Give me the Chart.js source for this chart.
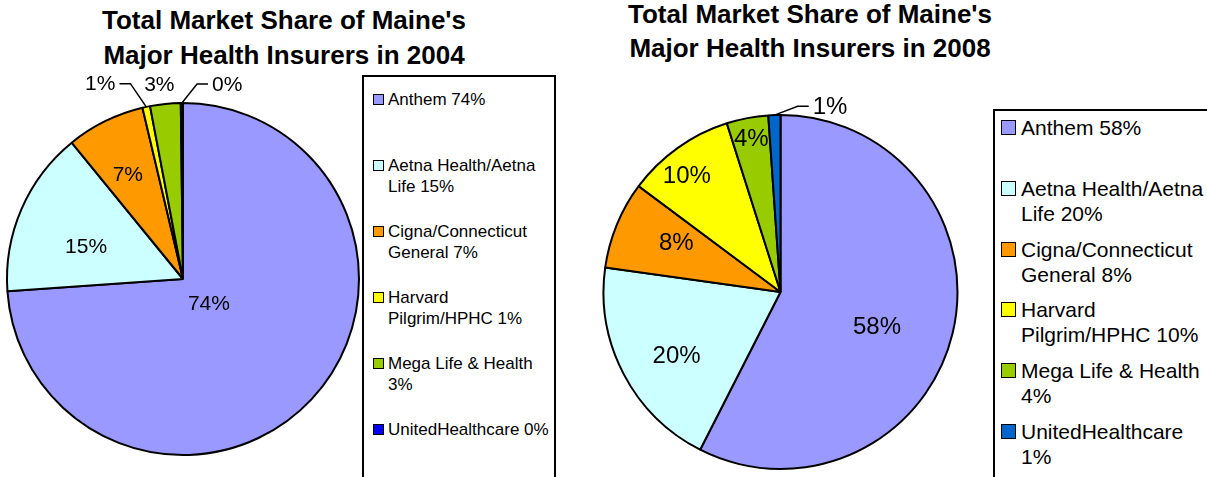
<!DOCTYPE html>
<html>
<head>
<meta charset="utf-8">
<script src="https://cdn.jsdelivr.net/npm/chart.js@4.4.1/dist/chart.umd.min.js"></script>
<style>
  html, body { margin: 0; padding: 0; background: #fff; }
  body { width: 1207px; height: 477px; position: relative; overflow: hidden;
         font-family: "Liberation Sans", Arial, sans-serif; color: #000; }
  canvas { position: absolute; top: 0; }
  .title { position: absolute; width: 500px; text-align: center; font-weight: bold; font-size: 26px; }
  .legend { position: absolute; border: 2px solid #000; background: #fff; box-sizing: border-box; }
  .item { position: absolute; }
  .swatch { position: absolute; box-sizing: border-box; border: 1.5px solid #000; }
  .text { position: absolute; }
</style>
</head>
<body>
<div id="title2004" class="title" style="left:34px; top:3px; line-height:35px;"></div>
<div id="title2008" class="title" style="left:560px; top:-3px; line-height:34px;"></div>
<canvas id="pie2004" width="366" height="558" style="left:0px; width:366px; height:558px;"></canvas>
<canvas id="pie2008" width="361" height="584" style="left:600px; width:361px; height:584px;"></canvas>
<div id="legend2004" class="legend" style="left:362px; top:75px; width:194px; height:420px;"></div>
<div id="legend2008" class="legend" style="left:993px; top:109px; width:300px; height:420px;"></div>
<script>
const categories = ["Anthem", "Aetna Health/Aetna Life", "Cigna/Connecticut General",
  "Harvard Pilgrim/HPHC", "Mega Life & Health", "UnitedHealthcare"];
const share2004 = [73.9, 15.2, 7.2, 0.7, 2.8, 0.2];
const share2008 = [57.5, 19.7, 8.0, 9.9, 3.8, 1.1];
const title2004 = ["Total Market Share of Maine's", "Major Health Insurers in 2004"];
const title2008 = ["Total Market Share of Maine's", "Major Health Insurers in 2008"];

const colors2004 = ["#9999FF", "#CCFFFF", "#FF9900", "#FFFF00", "#99CC00", "#0000FF"];
const colors2008 = ["#9999FF", "#CCFFFF", "#FF9900", "#FFFF00", "#99CC00", "#0066CC"];

function pct(v) {
  return Math.round(v) + "%";
}

// percent labels on / beside each slice, with elbow leader lines for the outside ones
const sliceLabels = {
  id: "sliceLabels",
  afterDatasetsDraw(chart, args, opts) {
    const ctx = chart.ctx;
    const meta = chart.getDatasetMeta(0);
    const values = chart.data.datasets[0].data;
    ctx.save();
    ctx.font = opts.size + 'px "Liberation Sans", Arial, sans-serif';
    ctx.fillStyle = "#000";
    ctx.strokeStyle = "#000";
    ctx.lineWidth = 1.5;
    ctx.textAlign = "center";
    ctx.textBaseline = "middle";
    meta.data.forEach((arc, i) => {
      const p = opts.place[i];
      const { x, y, startAngle, endAngle, outerRadius } =
        arc.getProps(["x", "y", "startAngle", "endAngle", "outerRadius"], true);
      const mid = (startAngle + endAngle) / 2;
      const a = mid + (p.shift || 0) * Math.PI / 180;
      const lx = x + Math.cos(a) * outerRadius * p.d;
      const ly = y + Math.sin(a) * outerRadius * p.d;
      const text = pct(values[i]);
      if (p.leader) {
        const ex = x + Math.cos(mid) * outerRadius;
        const ey = y + Math.sin(mid) * outerRadius;
        const half = ctx.measureText(text).width / 2;
        const dir = lx > ex ? -1 : 1;
        const endX = lx + dir * (half + 4);
        const elbowX = endX + dir * 11;
        ctx.beginPath();
        ctx.moveTo(ex, ey);
        ctx.lineTo(elbowX, ly - 1);
        ctx.lineTo(endX, ly - 1);
        ctx.stroke();
      }
      ctx.fillText(text, lx, ly);
    });
    ctx.restore();
  }
};

function makePie(id, values, colors, radius, labelSize, place) {
  return new Chart(document.getElementById(id), {
    type: "pie",
    data: {
      labels: categories,
      datasets: [{
        data: values,
        backgroundColor: colors,
        borderColor: "#000",
        borderWidth: 2,
        radius: radius,
      }],
    },
    options: {
      responsive: false,
      animation: false,
      events: [],
      layout: { padding: 0 },
      plugins: {
        legend: { display: false },
        title: { display: false },
        tooltip: { enabled: false },
        sliceLabels: { size: labelSize, place: place },
      },
    },
    plugins: [sliceLabels],
  });
}

function fillTitle(id, lines) {
  document.getElementById(id).innerHTML = lines.join("<br>");
}

function buildLegend(id, values, colors, o) {
  const box = document.getElementById(id);
  categories.forEach((name, i) => {
    const item = document.createElement("div");
    item.className = "item";
    item.style.top = (o.top + i * o.step) + "px";
    item.style.left = "0px";
    const sw = document.createElement("div");
    sw.className = "swatch";
    sw.style.left = o.swLeft + "px";
    sw.style.top = ((o.line - o.sw) / 2) + "px";
    sw.style.width = o.sw + "px";
    sw.style.height = o.sw + "px";
    sw.style.background = colors[i];
    const tx = document.createElement("div");
    tx.className = "text";
    tx.style.left = o.textLeft + "px";
    tx.style.width = o.textWidth + "px";
    tx.style.fontSize = o.font + "px";
    tx.style.lineHeight = o.line + "px";
    tx.textContent = name + " " + pct(values[i]);
    item.appendChild(sw);
    item.appendChild(tx);
    box.appendChild(item);
  });
}

fillTitle("title2004", title2004);
fillTitle("title2008", title2008);

makePie("pie2004", share2004, colors2004, 176, 21, [
  { d: 0.205, shift: 1 },
  { d: 0.58, shift: -5 },
  { d: 0.67, shift: -1.6 },
  { d: 1.2, shift: -11, leader: true },
  { d: 1.11, shift: -1.2 },
  { d: 1.13, shift: 13.2, leader: true },
]);

makePie("pie2008", share2008, colors2008, 177, 24, [
  { d: 0.58, shift: 6.5 },
  { d: 0.69, shift: -4.2 },
  { d: 0.65, shift: 2.8 },
  { d: 0.84, shift: -3.6 },
  { d: 0.88, shift: 0 },
  { d: 1.08, shift: 17, leader: true },
]);

buildLegend("legend2004", share2004, colors2004,
  { top: 12, step: 66, line: 21, sw: 11, swLeft: 9, textLeft: 24, textWidth: 166, font: 17 });
buildLegend("legend2008", share2008, colors2008,
  { top: 4, step: 60.8, line: 25, sw: 15, swLeft: 6, textLeft: 26, textWidth: 188, font: 21 });
</script>
</body>
</html>
